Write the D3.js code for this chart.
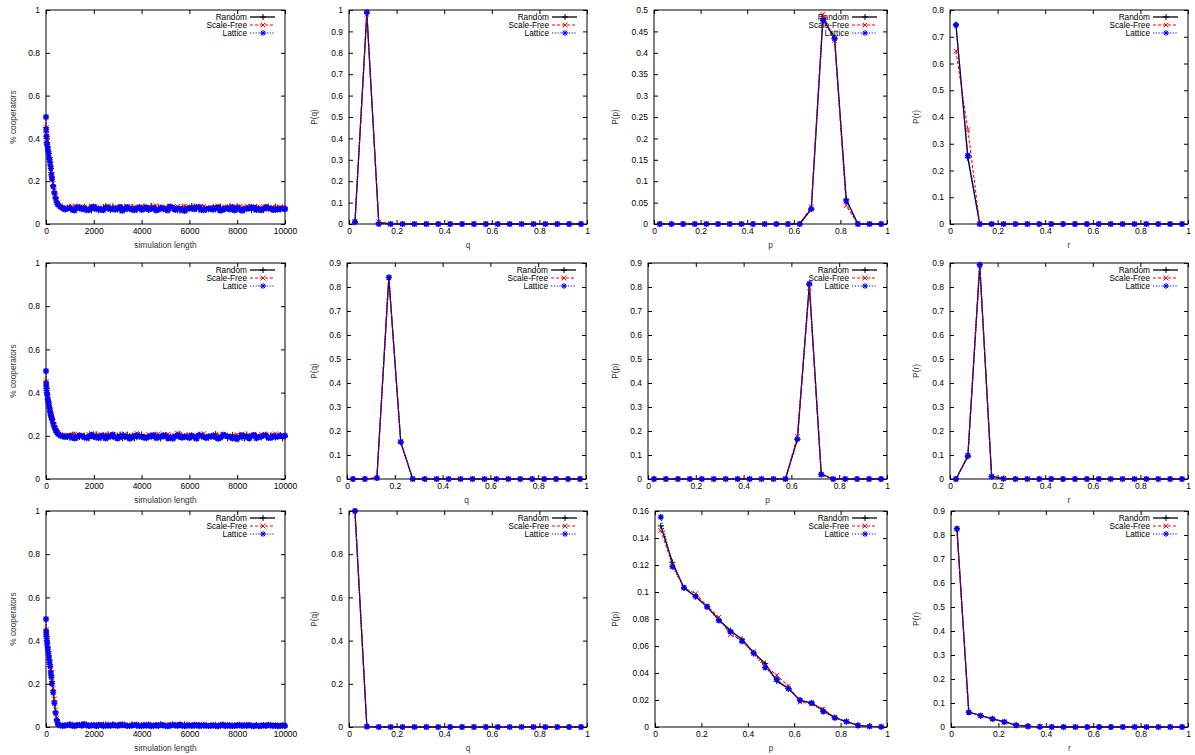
<!DOCTYPE html>
<html>
<head>
<meta charset="utf-8">
<script src="https://cdn.jsdelivr.net/npm/d3@7"></script>
<style>
  body { margin: 0; background: #fff; }
  svg { display: block; font-family: "Liberation Sans", Arial, Helvetica, sans-serif; }
</style>
</head>
<body>
<svg id="chart" width="1195" height="755"></svg>
<script>
// ---------- sampling grids ----------
// early transient is sampled finely, the steady state every 100 steps
const transientSteps = [0, 10, 20, 30, 50, 75, 100, 125, 150, 175, 200, 225, 250, 300, 350, 400, 450, 500, 600, 700];
const sampleSteps = transientSteps.concat(d3.range(800, 10001, 100));

const bins = [0.025, 0.075, 0.125, 0.175, 0.225, 0.275, 0.325, 0.375, 0.425, 0.475,
  0.525, 0.575, 0.625, 0.675, 0.725, 0.775, 0.825, 0.875, 0.925, 0.975];

const seriesNames = ["Random", "Scale-Free", "Lattice"];

// ---------- tick labels ----------
const tsXTicks = [0, 2000, 4000, 6000, 8000, 10000];
const unitXTicks = [0, 0.2, 0.4, 0.6, 0.8, 1];
const coopYTicks = [0, 0.2, 0.4, 0.6, 0.8, 1];
const tenthsTo1 = [0, 0.1, 0.2, 0.3, 0.4, 0.5, 0.6, 0.7, 0.8, 0.9, 1];
const tenthsTo09 = [0, 0.1, 0.2, 0.3, 0.4, 0.5, 0.6, 0.7, 0.8, 0.9];
const tenthsTo08 = [0, 0.1, 0.2, 0.3, 0.4, 0.5, 0.6, 0.7, 0.8];
const halfTicks = [0, 0.05, 0.1, 0.15, 0.2, 0.25, 0.3, 0.35, 0.4, 0.45, 0.5];
const smallTicks = [0, 0.02, 0.04, 0.06, 0.08, 0.1, 0.12, 0.14, 0.16];

// ---------- fraction of cooperators over time ----------
const coopRandom1 = [0.45,0.43,0.40,0.41,0.38,0.36,0.34,0.33,0.31,0.29,0.27,0.24,0.22,0.18,0.15,0.125,0.105,0.095,0.082,0.076,
  0.071,0.076,0.079,0.068,0.066,0.080,0.074,0.069,0.081,0.072,
  0.068,0.063,0.075,0.078,0.064,0.070,0.078,0.083,0.070,0.066,
  0.083,0.074,0.067,0.062,0.073,0.079,0.069,0.071,0.080,0.067,
  0.065,0.075,0.076,0.082,0.071,0.066,0.084,0.073,0.068,0.077,
  0.074,0.069,0.066,0.081,0.079,0.072,0.070,0.064,0.063,0.078,
  0.077,0.067,0.072,0.084,0.082,0.070,0.067,0.076,0.075,0.065,
  0.069,0.073,0.080,0.068,0.065,0.079,0.073,0.071,0.078,0.083,
  0.066,0.070,0.083,0.077,0.070,0.064,0.076,0.080,0.064,0.069,
  0.079,0.074,0.068,0.066,0.074,0.081,0.071,0.068,0.081,0.075,
  0.067,0.073,0.075];
const coopScaleFree1 = [0.5,0.45,0.42,0.39,0.39,0.37,0.35,0.34,0.32,0.30,0.28,0.25,0.23,0.19,0.155,0.13,0.11,0.098,0.085,0.079,
  0.078,0.073,0.071,0.082,0.084,0.070,0.073,0.079,0.080,0.072,
  0.069,0.084,0.082,0.075,0.075,0.068,0.070,0.081,0.085,0.077,
  0.074,0.071,0.079,0.083,0.068,0.076,0.083,0.072,0.076,0.080,
  0.072,0.069,0.081,0.078,0.070,0.074,0.077,0.083,0.086,0.071,
  0.073,0.079,0.080,0.069,0.069,0.077,0.078,0.082,0.075,0.073,
  0.084,0.080,0.071,0.076,0.079,0.074,0.074,0.084,0.082,0.070,
  0.070,0.078,0.077,0.081,0.085,0.069,0.072,0.080,0.080,0.075,
  0.068,0.071,0.079,0.083,0.075,0.077,0.083,0.070,0.071,0.079,
  0.078,0.075,0.074,0.081,0.082,0.068,0.069,0.078,0.077,0.072,
  0.081,0.076,0.073];
const coopLattice1 = [0.5,0.44,0.41,0.38,0.37,0.35,0.33,0.31,0.30,0.28,0.26,0.23,0.21,0.175,0.145,0.12,0.1,0.09,0.08,0.073,
  0.068,0.072,0.075,0.065,0.063,0.077,0.079,0.070,0.070,0.064,
  0.066,0.078,0.081,0.069,0.072,0.066,0.064,0.074,0.077,0.070,
  0.069,0.067,0.074,0.080,0.062,0.070,0.080,0.073,0.067,0.064,
  0.073,0.078,0.065,0.070,0.078,0.068,0.070,0.075,0.063,0.066,
  0.076,0.072,0.068,0.063,0.082,0.077,0.066,0.069,0.072,0.064,
  0.061,0.071,0.075,0.072,0.069,0.079,0.079,0.066,0.064,0.071,
  0.073,0.069,0.067,0.075,0.077,0.062,0.065,0.073,0.071,0.068,
  0.080,0.063,0.074,0.067,0.062,0.069,0.071,0.073,0.080,0.076,
  0.065,0.068,0.064,0.070,0.079,0.074,0.072,0.065,0.066,0.068,
  0.070,0.072,0.069];

const coopRandom2 = [0.45,0.43,0.41,0.42,0.39,0.37,0.36,0.34,0.33,0.31,0.30,0.29,0.28,0.26,0.245,0.23,0.22,0.212,0.204,0.2,
  0.198,0.194,0.191,0.203,0.205,0.190,0.194,0.199,0.201,0.192,
  0.188,0.197,0.203,0.207,0.196,0.189,0.192,0.200,0.207,0.198,
  0.195,0.190,0.200,0.206,0.189,0.193,0.204,0.199,0.197,0.188,
  0.193,0.204,0.206,0.195,0.190,0.197,0.199,0.202,0.202,0.193,
  0.187,0.196,0.203,0.198,0.196,0.189,0.192,0.205,0.208,0.194,
  0.194,0.201,0.200,0.193,0.189,0.198,0.205,0.197,0.197,0.191,
  0.191,0.195,0.202,0.209,0.193,0.190,0.199,0.203,0.188,0.196,
  0.204,0.197,0.196,0.201,0.190,0.187,0.206,0.199,0.194,0.202,
  0.199,0.193,0.192,0.203,0.206,0.195,0.199,0.196,0.192,0.200,
  0.203,0.188,0.197];
const coopScaleFree2 = [0.5,0.45,0.43,0.41,0.40,0.38,0.37,0.35,0.34,0.32,0.31,0.30,0.29,0.265,0.25,0.235,0.225,0.216,0.207,0.203,
  0.202,0.199,0.195,0.204,0.208,0.193,0.199,0.202,0.193,0.197,
  0.206,0.211,0.197,0.194,0.203,0.207,0.191,0.196,0.205,0.200,
  0.207,0.203,0.196,0.192,0.203,0.209,0.191,0.195,0.199,0.205,
  0.211,0.199,0.194,0.196,0.200,0.206,0.197,0.192,0.203,0.209,
  0.198,0.194,0.204,0.207,0.195,0.199,0.201,0.212,0.207,0.195,
  0.193,0.198,0.205,0.203,0.199,0.190,0.202,0.207,0.210,0.196,
  0.196,0.194,0.202,0.206,0.194,0.199,0.208,0.204,0.200,0.194,
  0.197,0.201,0.204,0.193,0.208,0.203,0.197,0.192,0.202,0.207,
  0.199,0.193,0.206,0.204,0.203,0.196,0.195,0.206,0.209,0.200,
  0.195,0.199,0.200];
const coopLattice2 = [0.5,0.44,0.42,0.40,0.39,0.37,0.355,0.34,0.325,0.31,0.295,0.285,0.275,0.255,0.24,0.225,0.215,0.208,0.2,0.197,
  0.194,0.198,0.200,0.191,0.187,0.196,0.203,0.199,0.192,0.189,
  0.198,0.205,0.196,0.192,0.190,0.199,0.201,0.187,0.194,0.197,
  0.206,0.194,0.188,0.193,0.202,0.197,0.195,0.186,0.191,0.199,
  0.202,0.197,0.195,0.191,0.189,0.195,0.199,0.204,0.189,0.192,
  0.196,0.203,0.200,0.188,0.192,0.186,0.197,0.203,0.194,0.191,
  0.198,0.194,0.190,0.201,0.196,0.186,0.203,0.200,0.194,0.190,
  0.198,0.197,0.200,0.192,0.186,0.191,0.205,0.201,0.197,0.195,
  0.187,0.190,0.184,0.194,0.202,0.199,0.193,0.188,0.199,0.204,
  0.188,0.194,0.196,0.201,0.203,0.190,0.190,0.198,0.194,0.196,
  0.201,0.197,0.201];

const coopRandom3 = [0.45,0.43,0.42,0.41,0.39,0.37,0.35,0.33,0.31,0.29,0.26,0.24,0.21,0.17,0.12,0.07,0.035,0.015,0.008,0.006,
  0.008,0.010,0.012,0.006,0.005,0.009,0.010,0.013,0.014,0.007,
  0.006,0.008,0.009,0.005,0.004,0.009,0.011,0.012,0.007,0.006,
  0.013,0.009,0.005,0.007,0.009,0.011,0.006,0.005,0.012,0.008,
  0.004,0.006,0.008,0.010,0.010,0.007,0.005,0.004,0.007,0.009,
  0.011,0.008,0.004,0.006,0.009,0.011,0.006,0.008,0.008,0.005,
  0.012,0.010,0.007,0.006,0.004,0.007,0.010,0.006,0.006,0.009,
  0.005,0.004,0.008,0.011,0.004,0.005,0.011,0.008,0.006,0.007,
  0.005,0.009,0.009,0.007,0.004,0.006,0.008,0.010,0.006,0.005,
  0.010,0.004,0.005,0.008,0.006,0.009,0.010,0.005,0.007,0.007,
  0.005,0.006,0.006];
const coopScaleFree3 = [0.5,0.45,0.43,0.42,0.40,0.38,0.36,0.34,0.32,0.30,0.27,0.25,0.22,0.18,0.13,0.08,0.04,0.018,0.009,0.008,
  0.010,0.008,0.006,0.011,0.013,0.009,0.008,0.011,0.005,0.007,
  0.011,0.008,0.007,0.010,0.012,0.006,0.009,0.007,0.010,0.013,
  0.006,0.009,0.008,0.005,0.011,0.009,0.006,0.004,0.008,0.011,
  0.012,0.007,0.008,0.010,0.005,0.006,0.006,0.009,0.007,0.010,
  0.009,0.006,0.005,0.012,0.011,0.007,0.009,0.006,0.005,0.008,
  0.010,0.007,0.006,0.008,0.011,0.006,0.008,0.010,0.008,0.004,
  0.007,0.006,0.011,0.007,0.006,0.008,0.004,0.005,0.009,0.011,
  0.006,0.008,0.008,0.005,0.008,0.010,0.005,0.009,0.009,0.006,
  0.005,0.007,0.006,0.009,0.005,0.004,0.008,0.007,0.010,0.008,
  0.006,0.007,0.008];
const coopLattice3 = [0.5,0.44,0.42,0.40,0.38,0.36,0.34,0.32,0.30,0.28,0.25,0.23,0.20,0.16,0.11,0.065,0.03,0.012,0.007,0.005,
  0.007,0.009,0.011,0.006,0.004,0.008,0.009,0.006,0.013,0.010,
  0.005,0.007,0.008,0.004,0.010,0.009,0.004,0.006,0.008,0.005,
  0.009,0.007,0.006,0.012,0.011,0.008,0.005,0.006,0.007,0.009,
  0.010,0.005,0.004,0.008,0.006,0.011,0.004,0.007,0.008,0.005,
  0.011,0.008,0.005,0.004,0.006,0.010,0.009,0.005,0.012,0.007,
  0.004,0.006,0.008,0.005,0.010,0.009,0.004,0.007,0.008,0.006,
  0.005,0.007,0.007,0.005,0.004,0.009,0.010,0.004,0.008,0.006,
  0.004,0.005,0.007,0.010,0.006,0.008,0.005,0.009,0.005,0.004,
  0.007,0.004,0.006,0.008,0.005,0.009,0.007,0.006,0.006,0.004,
  0.005,0.008,0.005];

// ---------- strategy distributions (one value per bin) ----------
const qRandom1    = [0.008,0.985,0.007,0,0,0,0,0,0,0,0,0,0,0,0,0,0,0,0,0];
const qScaleFree1 = [0.01,0.98,0.01,0,0,0,0,0,0,0,0,0,0,0,0,0,0,0,0,0];
const qLattice1   = [0.01,0.99,0,0,0,0,0,0,0,0,0,0,0,0,0,0,0,0,0,0];
const pRandom1    = [0,0,0,0,0,0,0,0,0,0,0,0,0,0.035,0.48,0.435,0.058,0,0,0];
const pScaleFree1 = [0,0,0,0,0,0,0,0,0,0,0,0,0,0.04,0.49,0.428,0.043,0,0,0];
const pLattice1   = [0,0,0,0,0,0,0,0,0,0,0,0,0,0.035,0.476,0.433,0.054,0,0,0];
const rRandom1    = [0.745,0.247,0,0,0,0,0,0,0,0,0,0,0,0,0,0,0,0,0,0];
const rScaleFree1 = [0.646,0.353,0,0,0,0,0,0,0,0,0,0,0,0,0,0,0,0,0,0];
const rLattice1   = [0.744,0.256,0,0,0,0,0,0,0,0,0,0,0,0,0,0,0,0,0,0];

const qRandom2    = [0,0,0.004,0.84,0.153,0,0,0,0,0,0,0,0,0,0,0,0,0,0,0];
const qScaleFree2 = [0,0,0.004,0.838,0.155,0,0,0,0,0,0,0,0,0,0,0,0,0,0,0];
const qLattice2   = [0,0,0.004,0.84,0.154,0,0,0,0,0,0,0,0,0,0,0,0,0,0,0];
const pRandom2    = [0,0,0,0,0,0,0,0,0,0,0,0,0.165,0.81,0.02,0,0,0,0,0];
const pScaleFree2 = [0,0,0,0,0,0,0,0,0,0,0,0,0.178,0.796,0.02,0,0,0,0,0];
const pLattice2   = [0,0,0,0,0,0,0,0,0,0,0,0,0.166,0.814,0.019,0,0,0,0,0];
const rRandom2    = [0,0.094,0.892,0.011,0.002,0,0,0,0,0,0,0,0,0,0,0,0,0,0,0];
const rScaleFree2 = [0,0.098,0.888,0.011,0.002,0,0,0,0,0,0,0,0,0,0,0,0,0,0,0];
const rLattice2   = [0,0.097,0.893,0.01,0.001,0,0,0,0,0,0,0,0,0,0,0,0,0,0,0];

const qRandom3    = [1,0.002,0,0,0,0,0,0,0,0,0,0,0,0,0,0,0,0,0,0];
const qScaleFree3 = [1,0.002,0,0,0,0,0,0,0,0,0,0,0,0,0,0,0,0,0,0];
const qLattice3   = [1,0.002,0,0,0,0,0,0,0,0,0,0,0,0,0,0,0,0,0,0];
const pRandom3    = [0.149,0.122,0.103,0.0965,0.089,0.0795,0.0715,0.065,0.055,0.047,
  0.034,0.0285,0.0198,0.0178,0.0125,0.0069,0.004,0.0012,0.0005,0.0001];
const pScaleFree3 = [0.1455,0.1205,0.103,0.0988,0.0895,0.0812,0.0684,0.0642,0.0558,0.0454,
  0.0383,0.0304,0.0185,0.017,0.0133,0.0069,0.004,0.0012,0.0005,0.0001];
const pLattice3   = [0.1555,0.1188,0.1032,0.0968,0.0891,0.0788,0.0706,0.0635,0.0545,0.044,
  0.0353,0.0284,0.0198,0.0178,0.0114,0.0069,0.004,0.0012,0.0005,0.0001];
const rRandom3    = [0.826,0.0625,0.047,0.034,0.022,0.008,0.003,0.001,0,0,0,0,0,0,0,0,0,0,0,0];
const rScaleFree3 = [0.825,0.062,0.048,0.033,0.021,0.008,0.003,0.001,0,0,0,0,0,0,0,0,0,0,0,0];
const rLattice3   = [0.826,0.061,0.047,0.034,0.021,0.007,0.003,0.001,0,0,0,0,0,0,0,0,0,0,0,0];

// ---------- layout ----------
const rows = [
  { top: 10,  bottom: 224, cols: [[46, 285], [349, 587], [654, 887], [950, 1188]] },
  { top: 263, bottom: 479, cols: [[46, 285], [347, 586], [648, 887], [950, 1188]] },
  { top: 511, bottom: 727, cols: [[46, 285], [349, 587], [655, 887], [951, 1188]] }
];
const yLabelX = [13, 314, 615, 916];

const styles = [
  { color: "#000000", dash: null,      marker: "plus",  width: 1.3 },
  { color: "#ff0000", dash: "3,2",     marker: "cross", width: 1.1 },
  { color: "#0000ff", dash: "1.2,1.6", marker: "star",  width: 1.2 }
];

const markerPath = {
  plus:  "M-3,0H3M0,-3V3",
  cross: "M-2.4,-2.4L2.4,2.4M-2.4,2.4L2.4,-2.4",
  star:  "M-3,0H3M0,-3V3M-2.2,-2.2L2.2,2.2M-2.2,2.2L2.2,-2.2"
};

function ts(a, b, c) {
  return [a, b, c].map(v => v.slice(0, sampleSteps.length).map((y, i) => [sampleSteps[i], y]));
}
function hist(a, b, c) { return [a, b, c].map(v => v.map((y, i) => [bins[i], y])); }

const panels = [
  // row 1
  { row: 0, col: 0, x: [0, 10000], xt: tsXTicks, yt: coopYTicks, xl: "simulation length", yl: "% cooperators", s: ts(coopRandom1, coopScaleFree1, coopLattice1) },
  { row: 0, col: 1, x: [0, 1], xt: unitXTicks, yt: tenthsTo1, xl: "q", yl: "P(q)", s: hist(qRandom1, qScaleFree1, qLattice1) },
  { row: 0, col: 2, x: [0, 1], xt: unitXTicks, yt: halfTicks, xl: "p", yl: "P(p)", s: hist(pRandom1, pScaleFree1, pLattice1) },
  { row: 0, col: 3, x: [0, 1], xt: unitXTicks, yt: tenthsTo08, xl: "r", yl: "P(r)", s: hist(rRandom1, rScaleFree1, rLattice1) },
  // row 2
  { row: 1, col: 0, x: [0, 10000], xt: tsXTicks, yt: coopYTicks, xl: "simulation length", yl: "% cooperators", s: ts(coopRandom2, coopScaleFree2, coopLattice2) },
  { row: 1, col: 1, x: [0, 1], xt: unitXTicks, yt: tenthsTo09, xl: "q", yl: "P(q)", s: hist(qRandom2, qScaleFree2, qLattice2) },
  { row: 1, col: 2, x: [0, 1], xt: unitXTicks, yt: tenthsTo09, xl: "p", yl: "P(p)", s: hist(pRandom2, pScaleFree2, pLattice2) },
  { row: 1, col: 3, x: [0, 1], xt: unitXTicks, yt: tenthsTo09, xl: "r", yl: "P(r)", s: hist(rRandom2, rScaleFree2, rLattice2) },
  // row 3
  { row: 2, col: 0, x: [0, 10000], xt: tsXTicks, yt: coopYTicks, xl: "simulation length", yl: "% cooperators", s: ts(coopRandom3, coopScaleFree3, coopLattice3) },
  { row: 2, col: 1, x: [0, 1], xt: unitXTicks, yt: coopYTicks, xl: "q", yl: "P(q)", s: hist(qRandom3, qScaleFree3, qLattice3) },
  { row: 2, col: 2, x: [0, 1], xt: unitXTicks, yt: smallTicks, xl: "p", yl: "P(p)", s: hist(pRandom3, pScaleFree3, pLattice3) },
  { row: 2, col: 3, x: [0, 1], xt: unitXTicks, yt: tenthsTo09, xl: "r", yl: "P(r)", s: hist(rRandom3, rScaleFree3, rLattice3) }
];

const fmt = v => String(Math.round(v * 10000) / 10000);
const svg = d3.select("#chart");

function styleAxis(g, showLabels) {
  g.select(".domain").remove();
  g.selectAll(".tick line").attr("stroke", "#000").attr("stroke-width", 1);
  if (showLabels) {
    g.selectAll(".tick text").attr("fill", "#000").style("font-size", "8.5px")
      .style("font-family", '"Liberation Sans", Arial, sans-serif');
  } else {
    g.selectAll(".tick text").remove();
  }
}

panels.forEach(p => {
  const r = rows[p.row];
  const [left, right] = r.cols[p.col];
  const top = r.top, bottom = r.bottom;
  const x = d3.scaleLinear().domain(p.x).range([left, right]);
  const y = d3.scaleLinear().domain([0, p.yt[p.yt.length - 1]]).range([bottom, top]);
  const g = svg.append("g");

  // inward ticks on all four sides
  g.append("g").attr("transform", `translate(0,${bottom})`)
    .call(d3.axisBottom(x).tickValues(p.xt).tickFormat(fmt).tickSize(-4).tickPadding(4))
    .call(a => styleAxis(a, true));
  g.append("g").attr("transform", `translate(0,${top})`)
    .call(d3.axisTop(x).tickValues(p.xt).tickSize(-4))
    .call(a => styleAxis(a, false));
  g.append("g").attr("transform", `translate(${left},0)`)
    .call(d3.axisLeft(y).tickValues(p.yt).tickFormat(fmt).tickSize(-4).tickPadding(6))
    .call(a => styleAxis(a, true));
  g.append("g").attr("transform", `translate(${right},0)`)
    .call(d3.axisRight(y).tickValues(p.yt).tickSize(-4))
    .call(a => styleAxis(a, false));

  g.append("rect").attr("x", left).attr("y", top)
    .attr("width", right - left).attr("height", bottom - top)
    .attr("fill", "none").attr("stroke", "#000").attr("stroke-width", 1);

  // axis titles
  g.append("text").attr("x", (left + right) / 2).attr("y", bottom + 24)
    .attr("text-anchor", "middle").style("font-size", "8.3px").attr("fill", "#333")
    .text(p.xl);
  g.append("text")
    .attr("transform", `translate(${yLabelX[p.col]},${(top + bottom) / 2}) rotate(-90)`)
    .attr("text-anchor", "middle").attr("dy", "0.35em")
    .style("font-size", "8.3px").attr("fill", "#333")
    .text(p.yl);

  // key
  seriesNames.forEach((name, i) => {
    const ky = top + 7 + 8 * i;
    const st = styles[i];
    g.append("text").attr("x", right - 38).attr("y", ky).attr("dy", "0.35em")
      .attr("text-anchor", "end").style("font-size", "8.3px").attr("fill", "#000").text(name);
    g.append("line").attr("x1", right - 35).attr("x2", right - 10).attr("y1", ky).attr("y2", ky)
      .attr("stroke", st.color).attr("stroke-width", st.width)
      .attr("stroke-dasharray", st.dash);
    g.append("path").attr("d", markerPath[st.marker])
      .attr("transform", `translate(${right - 22},${ky})`)
      .attr("stroke", st.color).attr("stroke-width", 1).attr("fill", "none");
  });

  // series: lines with point markers
  const line = d3.line().x(d => x(d[0])).y(d => y(d[1]));
  p.s.forEach((data, i) => {
    const st = styles[i];
    g.append("path").datum(data).attr("d", line)
      .attr("fill", "none").attr("stroke", st.color).attr("stroke-width", st.width)
      .attr("stroke-dasharray", st.dash).attr("stroke-linejoin", "round");
    g.append("g").selectAll("path").data(data).join("path")
      .attr("d", markerPath[st.marker])
      .attr("transform", d => `translate(${x(d[0])},${y(d[1])})`)
      .attr("stroke", st.color).attr("stroke-width", i === 2 ? 1.4 : 1).attr("fill", "none");
  });
});
</script>
</body>
</html>
